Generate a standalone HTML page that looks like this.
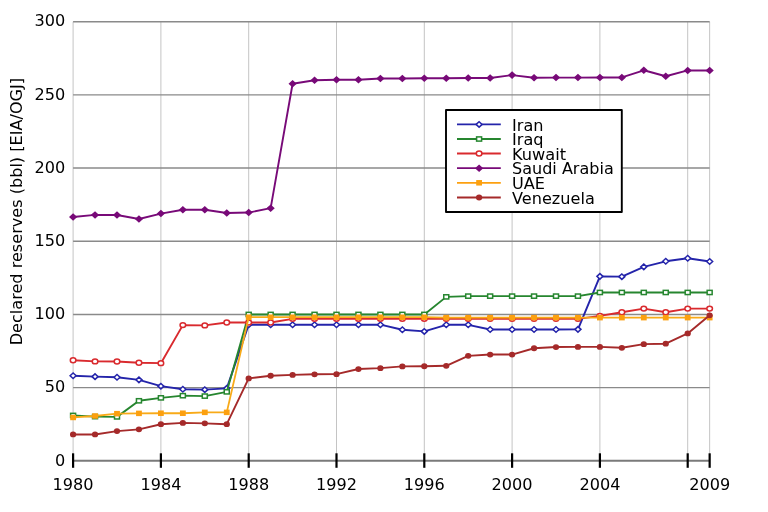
<!DOCTYPE html><html><head><meta charset="utf-8"><style>html,body{margin:0;padding:0;background:#fff;}svg{display:block;will-change:transform;}text{font-family:"DejaVu Sans","Liberation Sans",sans-serif;fill:#000;}</style></head><body>
<svg width="768" height="512" viewBox="0 0 768 512">
<rect width="768" height="512" fill="#fff"/>
<line x1="73.10" y1="21.69" x2="73.10" y2="460.80" stroke="#c4c4c4" stroke-width="1"/>
<line x1="160.90" y1="21.69" x2="160.90" y2="460.80" stroke="#c4c4c4" stroke-width="1"/>
<line x1="248.70" y1="21.69" x2="248.70" y2="460.80" stroke="#c4c4c4" stroke-width="1"/>
<line x1="336.50" y1="21.69" x2="336.50" y2="460.80" stroke="#c4c4c4" stroke-width="1"/>
<line x1="424.30" y1="21.69" x2="424.30" y2="460.80" stroke="#c4c4c4" stroke-width="1"/>
<line x1="512.10" y1="21.69" x2="512.10" y2="460.80" stroke="#c4c4c4" stroke-width="1"/>
<line x1="599.90" y1="21.69" x2="599.90" y2="460.80" stroke="#c4c4c4" stroke-width="1"/>
<line x1="687.70" y1="21.69" x2="687.70" y2="460.80" stroke="#c4c4c4" stroke-width="1"/>
<line x1="709.65" y1="21.69" x2="709.65" y2="460.80" stroke="#c4c4c4" stroke-width="1"/>
<line x1="73.10" y1="387.62" x2="709.65" y2="387.62" stroke="#8a8a8a" stroke-width="1.45"/>
<line x1="73.10" y1="314.43" x2="709.65" y2="314.43" stroke="#8a8a8a" stroke-width="1.45"/>
<line x1="73.10" y1="241.25" x2="709.65" y2="241.25" stroke="#8a8a8a" stroke-width="1.45"/>
<line x1="73.10" y1="168.06" x2="709.65" y2="168.06" stroke="#8a8a8a" stroke-width="1.45"/>
<line x1="73.10" y1="94.88" x2="709.65" y2="94.88" stroke="#8a8a8a" stroke-width="1.45"/>
<line x1="73.10" y1="21.69" x2="709.65" y2="21.69" stroke="#8a8a8a" stroke-width="1.45"/>
<line x1="73.10" y1="460.80" x2="709.65" y2="460.80" stroke="#7a7a7a" stroke-width="2"/>
<line x1="73.10" y1="453.30" x2="73.10" y2="467.80" stroke="#000" stroke-width="2.2"/>
<line x1="160.90" y1="453.30" x2="160.90" y2="467.80" stroke="#000" stroke-width="2.2"/>
<line x1="248.70" y1="453.30" x2="248.70" y2="467.80" stroke="#000" stroke-width="2.2"/>
<line x1="336.50" y1="453.30" x2="336.50" y2="467.80" stroke="#000" stroke-width="2.2"/>
<line x1="424.30" y1="453.30" x2="424.30" y2="467.80" stroke="#000" stroke-width="2.2"/>
<line x1="512.10" y1="453.30" x2="512.10" y2="467.80" stroke="#000" stroke-width="2.2"/>
<line x1="599.90" y1="453.30" x2="599.90" y2="467.80" stroke="#000" stroke-width="2.2"/>
<line x1="687.70" y1="453.30" x2="687.70" y2="467.80" stroke="#000" stroke-width="2.2"/>
<line x1="709.65" y1="453.30" x2="709.65" y2="467.80" stroke="#000" stroke-width="2.2"/>
<text transform="translate(65.20,465.60) scale(0.965,1)" font-size="16.7" text-anchor="end">0</text>
<text transform="translate(65.20,392.42) scale(0.965,1)" font-size="16.7" text-anchor="end">50</text>
<text transform="translate(65.20,319.23) scale(0.965,1)" font-size="16.7" text-anchor="end">100</text>
<text transform="translate(65.20,246.05) scale(0.965,1)" font-size="16.7" text-anchor="end">150</text>
<text transform="translate(65.20,172.86) scale(0.965,1)" font-size="16.7" text-anchor="end">200</text>
<text transform="translate(65.20,99.67) scale(0.965,1)" font-size="16.7" text-anchor="end">250</text>
<text transform="translate(65.20,26.49) scale(0.965,1)" font-size="16.7" text-anchor="end">300</text>
<text transform="translate(73.10,490.2) scale(0.965,1)" font-size="16.7" text-anchor="middle">1980</text>
<text transform="translate(160.90,490.2) scale(0.965,1)" font-size="16.7" text-anchor="middle">1984</text>
<text transform="translate(248.70,490.2) scale(0.965,1)" font-size="16.7" text-anchor="middle">1988</text>
<text transform="translate(336.50,490.2) scale(0.965,1)" font-size="16.7" text-anchor="middle">1992</text>
<text transform="translate(424.30,490.2) scale(0.965,1)" font-size="16.7" text-anchor="middle">1996</text>
<text transform="translate(512.10,490.2) scale(0.965,1)" font-size="16.7" text-anchor="middle">2000</text>
<text transform="translate(599.90,490.2) scale(0.965,1)" font-size="16.7" text-anchor="middle">2004</text>
<text transform="translate(709.65,490.2) scale(0.965,1)" font-size="16.7" text-anchor="middle">2009</text>
<text transform="translate(21.5,211.6) rotate(-90)" font-size="16.1" text-anchor="middle">Declared reserves (bbl) [EIA/OGJ]</text>
<polyline points="73.10,375.76 95.05,376.64 117.00,377.22 138.95,379.86 160.90,386.15 182.85,389.23 204.80,389.66 226.75,388.35 248.70,324.68 270.65,324.68 292.60,324.68 314.55,324.68 336.50,324.68 358.45,324.68 380.40,324.68 402.35,329.80 424.30,331.41 446.25,324.82 468.20,324.82 490.15,329.51 512.10,329.51 534.05,329.51 556.00,329.51 577.95,329.36 599.90,276.37 621.85,276.67 643.80,266.86 665.75,261.30 687.70,258.22 709.65,261.44" fill="none" stroke="#2424aa" stroke-width="1.9" stroke-linejoin="round"/>
<path d="M70.10,375.76L73.10,373.01L76.10,375.76L73.10,378.51Z" fill="#fff" stroke="#2424aa" stroke-width="1.5"/>
<path d="M92.05,376.64L95.05,373.89L98.05,376.64L95.05,379.39Z" fill="#fff" stroke="#2424aa" stroke-width="1.5"/>
<path d="M114.00,377.22L117.00,374.47L120.00,377.22L117.00,379.97Z" fill="#fff" stroke="#2424aa" stroke-width="1.5"/>
<path d="M135.95,379.86L138.95,377.11L141.95,379.86L138.95,382.61Z" fill="#fff" stroke="#2424aa" stroke-width="1.5"/>
<path d="M157.90,386.15L160.90,383.40L163.90,386.15L160.90,388.90Z" fill="#fff" stroke="#2424aa" stroke-width="1.5"/>
<path d="M179.85,389.23L182.85,386.48L185.85,389.23L182.85,391.98Z" fill="#fff" stroke="#2424aa" stroke-width="1.5"/>
<path d="M201.80,389.66L204.80,386.91L207.80,389.66L204.80,392.41Z" fill="#fff" stroke="#2424aa" stroke-width="1.5"/>
<path d="M223.75,388.35L226.75,385.60L229.75,388.35L226.75,391.10Z" fill="#fff" stroke="#2424aa" stroke-width="1.5"/>
<path d="M245.70,324.68L248.70,321.93L251.70,324.68L248.70,327.43Z" fill="#fff" stroke="#2424aa" stroke-width="1.5"/>
<path d="M267.65,324.68L270.65,321.93L273.65,324.68L270.65,327.43Z" fill="#fff" stroke="#2424aa" stroke-width="1.5"/>
<path d="M289.60,324.68L292.60,321.93L295.60,324.68L292.60,327.43Z" fill="#fff" stroke="#2424aa" stroke-width="1.5"/>
<path d="M311.55,324.68L314.55,321.93L317.55,324.68L314.55,327.43Z" fill="#fff" stroke="#2424aa" stroke-width="1.5"/>
<path d="M333.50,324.68L336.50,321.93L339.50,324.68L336.50,327.43Z" fill="#fff" stroke="#2424aa" stroke-width="1.5"/>
<path d="M355.45,324.68L358.45,321.93L361.45,324.68L358.45,327.43Z" fill="#fff" stroke="#2424aa" stroke-width="1.5"/>
<path d="M377.40,324.68L380.40,321.93L383.40,324.68L380.40,327.43Z" fill="#fff" stroke="#2424aa" stroke-width="1.5"/>
<path d="M399.35,329.80L402.35,327.05L405.35,329.80L402.35,332.55Z" fill="#fff" stroke="#2424aa" stroke-width="1.5"/>
<path d="M421.30,331.41L424.30,328.66L427.30,331.41L424.30,334.16Z" fill="#fff" stroke="#2424aa" stroke-width="1.5"/>
<path d="M443.25,324.82L446.25,322.07L449.25,324.82L446.25,327.57Z" fill="#fff" stroke="#2424aa" stroke-width="1.5"/>
<path d="M465.20,324.82L468.20,322.07L471.20,324.82L468.20,327.57Z" fill="#fff" stroke="#2424aa" stroke-width="1.5"/>
<path d="M487.15,329.51L490.15,326.76L493.15,329.51L490.15,332.26Z" fill="#fff" stroke="#2424aa" stroke-width="1.5"/>
<path d="M509.10,329.51L512.10,326.76L515.10,329.51L512.10,332.26Z" fill="#fff" stroke="#2424aa" stroke-width="1.5"/>
<path d="M531.05,329.51L534.05,326.76L537.05,329.51L534.05,332.26Z" fill="#fff" stroke="#2424aa" stroke-width="1.5"/>
<path d="M553.00,329.51L556.00,326.76L559.00,329.51L556.00,332.26Z" fill="#fff" stroke="#2424aa" stroke-width="1.5"/>
<path d="M574.95,329.36L577.95,326.61L580.95,329.36L577.95,332.11Z" fill="#fff" stroke="#2424aa" stroke-width="1.5"/>
<path d="M596.90,276.37L599.90,273.62L602.90,276.37L599.90,279.12Z" fill="#fff" stroke="#2424aa" stroke-width="1.5"/>
<path d="M618.85,276.67L621.85,273.92L624.85,276.67L621.85,279.42Z" fill="#fff" stroke="#2424aa" stroke-width="1.5"/>
<path d="M640.80,266.86L643.80,264.11L646.80,266.86L643.80,269.61Z" fill="#fff" stroke="#2424aa" stroke-width="1.5"/>
<path d="M662.75,261.30L665.75,258.55L668.75,261.30L665.75,264.05Z" fill="#fff" stroke="#2424aa" stroke-width="1.5"/>
<path d="M684.70,258.22L687.70,255.47L690.70,258.22L687.70,260.97Z" fill="#fff" stroke="#2424aa" stroke-width="1.5"/>
<path d="M706.65,261.44L709.65,258.69L712.65,261.44L709.65,264.19Z" fill="#fff" stroke="#2424aa" stroke-width="1.5"/>
<polyline points="73.10,415.43 95.05,416.60 117.00,416.89 138.95,400.79 160.90,397.86 182.85,395.67 204.80,396.10 226.75,391.86 248.70,314.43 270.65,314.43 292.60,314.43 314.55,314.43 336.50,314.43 358.45,314.43 380.40,314.43 402.35,314.43 424.30,314.43 446.25,296.87 468.20,296.13 490.15,296.13 512.10,296.13 534.05,296.13 556.00,296.13 577.95,296.13 599.90,292.47 621.85,292.47 643.80,292.47 665.75,292.47 687.70,292.47 709.65,292.47" fill="none" stroke="#26862f" stroke-width="1.9" stroke-linejoin="round"/>
<rect x="70.60" y="413.33" width="5.00" height="4.20" fill="#fff" stroke="#26862f" stroke-width="1.5"/>
<rect x="92.55" y="414.50" width="5.00" height="4.20" fill="#fff" stroke="#26862f" stroke-width="1.5"/>
<rect x="114.50" y="414.79" width="5.00" height="4.20" fill="#fff" stroke="#26862f" stroke-width="1.5"/>
<rect x="136.45" y="398.69" width="5.00" height="4.20" fill="#fff" stroke="#26862f" stroke-width="1.5"/>
<rect x="158.40" y="395.76" width="5.00" height="4.20" fill="#fff" stroke="#26862f" stroke-width="1.5"/>
<rect x="180.35" y="393.57" width="5.00" height="4.20" fill="#fff" stroke="#26862f" stroke-width="1.5"/>
<rect x="202.30" y="394.00" width="5.00" height="4.20" fill="#fff" stroke="#26862f" stroke-width="1.5"/>
<rect x="224.25" y="389.76" width="5.00" height="4.20" fill="#fff" stroke="#26862f" stroke-width="1.5"/>
<rect x="246.20" y="312.33" width="5.00" height="4.20" fill="#fff" stroke="#26862f" stroke-width="1.5"/>
<rect x="268.15" y="312.33" width="5.00" height="4.20" fill="#fff" stroke="#26862f" stroke-width="1.5"/>
<rect x="290.10" y="312.33" width="5.00" height="4.20" fill="#fff" stroke="#26862f" stroke-width="1.5"/>
<rect x="312.05" y="312.33" width="5.00" height="4.20" fill="#fff" stroke="#26862f" stroke-width="1.5"/>
<rect x="334.00" y="312.33" width="5.00" height="4.20" fill="#fff" stroke="#26862f" stroke-width="1.5"/>
<rect x="355.95" y="312.33" width="5.00" height="4.20" fill="#fff" stroke="#26862f" stroke-width="1.5"/>
<rect x="377.90" y="312.33" width="5.00" height="4.20" fill="#fff" stroke="#26862f" stroke-width="1.5"/>
<rect x="399.85" y="312.33" width="5.00" height="4.20" fill="#fff" stroke="#26862f" stroke-width="1.5"/>
<rect x="421.80" y="312.33" width="5.00" height="4.20" fill="#fff" stroke="#26862f" stroke-width="1.5"/>
<rect x="443.75" y="294.77" width="5.00" height="4.20" fill="#fff" stroke="#26862f" stroke-width="1.5"/>
<rect x="465.70" y="294.03" width="5.00" height="4.20" fill="#fff" stroke="#26862f" stroke-width="1.5"/>
<rect x="487.65" y="294.03" width="5.00" height="4.20" fill="#fff" stroke="#26862f" stroke-width="1.5"/>
<rect x="509.60" y="294.03" width="5.00" height="4.20" fill="#fff" stroke="#26862f" stroke-width="1.5"/>
<rect x="531.55" y="294.03" width="5.00" height="4.20" fill="#fff" stroke="#26862f" stroke-width="1.5"/>
<rect x="553.50" y="294.03" width="5.00" height="4.20" fill="#fff" stroke="#26862f" stroke-width="1.5"/>
<rect x="575.45" y="294.03" width="5.00" height="4.20" fill="#fff" stroke="#26862f" stroke-width="1.5"/>
<rect x="597.40" y="290.37" width="5.00" height="4.20" fill="#fff" stroke="#26862f" stroke-width="1.5"/>
<rect x="619.35" y="290.37" width="5.00" height="4.20" fill="#fff" stroke="#26862f" stroke-width="1.5"/>
<rect x="641.30" y="290.37" width="5.00" height="4.20" fill="#fff" stroke="#26862f" stroke-width="1.5"/>
<rect x="663.25" y="290.37" width="5.00" height="4.20" fill="#fff" stroke="#26862f" stroke-width="1.5"/>
<rect x="685.20" y="290.37" width="5.00" height="4.20" fill="#fff" stroke="#26862f" stroke-width="1.5"/>
<rect x="707.15" y="290.37" width="5.00" height="4.20" fill="#fff" stroke="#26862f" stroke-width="1.5"/>
<polyline points="73.10,360.24 95.05,361.41 117.00,361.56 138.95,362.73 160.90,363.17 182.85,325.12 204.80,325.41 226.75,322.48 248.70,322.48 270.65,322.48 292.60,318.82 314.55,318.82 336.50,318.82 358.45,318.82 380.40,318.82 402.35,318.82 424.30,318.82 446.25,318.82 468.20,318.82 490.15,318.82 512.10,318.82 534.05,318.82 556.00,318.82 577.95,318.82 599.90,315.89 621.85,312.23 643.80,308.58 665.75,312.23 687.70,308.58 709.65,308.58" fill="none" stroke="#d92a2e" stroke-width="1.9" stroke-linejoin="round"/>
<ellipse cx="73.10" cy="360.24" rx="2.8" ry="2.45" fill="#fff" stroke="#d92a2e" stroke-width="1.5"/>
<ellipse cx="95.05" cy="361.41" rx="2.8" ry="2.45" fill="#fff" stroke="#d92a2e" stroke-width="1.5"/>
<ellipse cx="117.00" cy="361.56" rx="2.8" ry="2.45" fill="#fff" stroke="#d92a2e" stroke-width="1.5"/>
<ellipse cx="138.95" cy="362.73" rx="2.8" ry="2.45" fill="#fff" stroke="#d92a2e" stroke-width="1.5"/>
<ellipse cx="160.90" cy="363.17" rx="2.8" ry="2.45" fill="#fff" stroke="#d92a2e" stroke-width="1.5"/>
<ellipse cx="182.85" cy="325.12" rx="2.8" ry="2.45" fill="#fff" stroke="#d92a2e" stroke-width="1.5"/>
<ellipse cx="204.80" cy="325.41" rx="2.8" ry="2.45" fill="#fff" stroke="#d92a2e" stroke-width="1.5"/>
<ellipse cx="226.75" cy="322.48" rx="2.8" ry="2.45" fill="#fff" stroke="#d92a2e" stroke-width="1.5"/>
<ellipse cx="248.70" cy="322.48" rx="2.8" ry="2.45" fill="#fff" stroke="#d92a2e" stroke-width="1.5"/>
<ellipse cx="270.65" cy="322.48" rx="2.8" ry="2.45" fill="#fff" stroke="#d92a2e" stroke-width="1.5"/>
<ellipse cx="292.60" cy="318.82" rx="2.8" ry="2.45" fill="#fff" stroke="#d92a2e" stroke-width="1.5"/>
<ellipse cx="314.55" cy="318.82" rx="2.8" ry="2.45" fill="#fff" stroke="#d92a2e" stroke-width="1.5"/>
<ellipse cx="336.50" cy="318.82" rx="2.8" ry="2.45" fill="#fff" stroke="#d92a2e" stroke-width="1.5"/>
<ellipse cx="358.45" cy="318.82" rx="2.8" ry="2.45" fill="#fff" stroke="#d92a2e" stroke-width="1.5"/>
<ellipse cx="380.40" cy="318.82" rx="2.8" ry="2.45" fill="#fff" stroke="#d92a2e" stroke-width="1.5"/>
<ellipse cx="402.35" cy="318.82" rx="2.8" ry="2.45" fill="#fff" stroke="#d92a2e" stroke-width="1.5"/>
<ellipse cx="424.30" cy="318.82" rx="2.8" ry="2.45" fill="#fff" stroke="#d92a2e" stroke-width="1.5"/>
<ellipse cx="446.25" cy="318.82" rx="2.8" ry="2.45" fill="#fff" stroke="#d92a2e" stroke-width="1.5"/>
<ellipse cx="468.20" cy="318.82" rx="2.8" ry="2.45" fill="#fff" stroke="#d92a2e" stroke-width="1.5"/>
<ellipse cx="490.15" cy="318.82" rx="2.8" ry="2.45" fill="#fff" stroke="#d92a2e" stroke-width="1.5"/>
<ellipse cx="512.10" cy="318.82" rx="2.8" ry="2.45" fill="#fff" stroke="#d92a2e" stroke-width="1.5"/>
<ellipse cx="534.05" cy="318.82" rx="2.8" ry="2.45" fill="#fff" stroke="#d92a2e" stroke-width="1.5"/>
<ellipse cx="556.00" cy="318.82" rx="2.8" ry="2.45" fill="#fff" stroke="#d92a2e" stroke-width="1.5"/>
<ellipse cx="577.95" cy="318.82" rx="2.8" ry="2.45" fill="#fff" stroke="#d92a2e" stroke-width="1.5"/>
<ellipse cx="599.90" cy="315.89" rx="2.8" ry="2.45" fill="#fff" stroke="#d92a2e" stroke-width="1.5"/>
<ellipse cx="621.85" cy="312.23" rx="2.8" ry="2.45" fill="#fff" stroke="#d92a2e" stroke-width="1.5"/>
<ellipse cx="643.80" cy="308.58" rx="2.8" ry="2.45" fill="#fff" stroke="#d92a2e" stroke-width="1.5"/>
<ellipse cx="665.75" cy="312.23" rx="2.8" ry="2.45" fill="#fff" stroke="#d92a2e" stroke-width="1.5"/>
<ellipse cx="687.70" cy="308.58" rx="2.8" ry="2.45" fill="#fff" stroke="#d92a2e" stroke-width="1.5"/>
<ellipse cx="709.65" cy="308.58" rx="2.8" ry="2.45" fill="#fff" stroke="#d92a2e" stroke-width="1.5"/>
<polyline points="73.10,216.95 95.05,214.90 117.00,215.04 138.95,219.00 160.90,213.58 182.85,209.78 204.80,209.78 226.75,213.00 248.70,212.56 270.65,208.17 292.60,83.75 314.55,80.24 336.50,79.80 358.45,79.80 380.40,78.48 402.35,78.48 424.30,78.19 446.25,78.19 468.20,78.04 490.15,78.04 512.10,75.12 534.05,77.75 556.00,77.60 577.95,77.60 599.90,77.46 621.85,77.46 643.80,70.28 665.75,76.29 687.70,70.43 709.65,70.43" fill="none" stroke="#780a78" stroke-width="1.9" stroke-linejoin="round"/>
<path d="M70.10,216.95L73.10,214.20L76.10,216.95L73.10,219.70Z" fill="#780a78" stroke="#780a78" stroke-width="1.5"/>
<path d="M92.05,214.90L95.05,212.15L98.05,214.90L95.05,217.65Z" fill="#780a78" stroke="#780a78" stroke-width="1.5"/>
<path d="M114.00,215.04L117.00,212.29L120.00,215.04L117.00,217.79Z" fill="#780a78" stroke="#780a78" stroke-width="1.5"/>
<path d="M135.95,219.00L138.95,216.25L141.95,219.00L138.95,221.75Z" fill="#780a78" stroke="#780a78" stroke-width="1.5"/>
<path d="M157.90,213.58L160.90,210.83L163.90,213.58L160.90,216.33Z" fill="#780a78" stroke="#780a78" stroke-width="1.5"/>
<path d="M179.85,209.78L182.85,207.03L185.85,209.78L182.85,212.53Z" fill="#780a78" stroke="#780a78" stroke-width="1.5"/>
<path d="M201.80,209.78L204.80,207.03L207.80,209.78L204.80,212.53Z" fill="#780a78" stroke="#780a78" stroke-width="1.5"/>
<path d="M223.75,213.00L226.75,210.25L229.75,213.00L226.75,215.75Z" fill="#780a78" stroke="#780a78" stroke-width="1.5"/>
<path d="M245.70,212.56L248.70,209.81L251.70,212.56L248.70,215.31Z" fill="#780a78" stroke="#780a78" stroke-width="1.5"/>
<path d="M267.65,208.17L270.65,205.42L273.65,208.17L270.65,210.92Z" fill="#780a78" stroke="#780a78" stroke-width="1.5"/>
<path d="M289.60,83.75L292.60,81.00L295.60,83.75L292.60,86.50Z" fill="#780a78" stroke="#780a78" stroke-width="1.5"/>
<path d="M311.55,80.24L314.55,77.49L317.55,80.24L314.55,82.99Z" fill="#780a78" stroke="#780a78" stroke-width="1.5"/>
<path d="M333.50,79.80L336.50,77.05L339.50,79.80L336.50,82.55Z" fill="#780a78" stroke="#780a78" stroke-width="1.5"/>
<path d="M355.45,79.80L358.45,77.05L361.45,79.80L358.45,82.55Z" fill="#780a78" stroke="#780a78" stroke-width="1.5"/>
<path d="M377.40,78.48L380.40,75.73L383.40,78.48L380.40,81.23Z" fill="#780a78" stroke="#780a78" stroke-width="1.5"/>
<path d="M399.35,78.48L402.35,75.73L405.35,78.48L402.35,81.23Z" fill="#780a78" stroke="#780a78" stroke-width="1.5"/>
<path d="M421.30,78.19L424.30,75.44L427.30,78.19L424.30,80.94Z" fill="#780a78" stroke="#780a78" stroke-width="1.5"/>
<path d="M443.25,78.19L446.25,75.44L449.25,78.19L446.25,80.94Z" fill="#780a78" stroke="#780a78" stroke-width="1.5"/>
<path d="M465.20,78.04L468.20,75.29L471.20,78.04L468.20,80.79Z" fill="#780a78" stroke="#780a78" stroke-width="1.5"/>
<path d="M487.15,78.04L490.15,75.29L493.15,78.04L490.15,80.79Z" fill="#780a78" stroke="#780a78" stroke-width="1.5"/>
<path d="M509.10,75.12L512.10,72.37L515.10,75.12L512.10,77.87Z" fill="#780a78" stroke="#780a78" stroke-width="1.5"/>
<path d="M531.05,77.75L534.05,75.00L537.05,77.75L534.05,80.50Z" fill="#780a78" stroke="#780a78" stroke-width="1.5"/>
<path d="M553.00,77.60L556.00,74.85L559.00,77.60L556.00,80.35Z" fill="#780a78" stroke="#780a78" stroke-width="1.5"/>
<path d="M574.95,77.60L577.95,74.85L580.95,77.60L577.95,80.35Z" fill="#780a78" stroke="#780a78" stroke-width="1.5"/>
<path d="M596.90,77.46L599.90,74.71L602.90,77.46L599.90,80.21Z" fill="#780a78" stroke="#780a78" stroke-width="1.5"/>
<path d="M618.85,77.46L621.85,74.71L624.85,77.46L621.85,80.21Z" fill="#780a78" stroke="#780a78" stroke-width="1.5"/>
<path d="M640.80,70.28L643.80,67.53L646.80,70.28L643.80,73.03Z" fill="#780a78" stroke="#780a78" stroke-width="1.5"/>
<path d="M662.75,76.29L665.75,73.54L668.75,76.29L665.75,79.04Z" fill="#780a78" stroke="#780a78" stroke-width="1.5"/>
<path d="M684.70,70.43L687.70,67.68L690.70,70.43L687.70,73.18Z" fill="#780a78" stroke="#780a78" stroke-width="1.5"/>
<path d="M706.65,70.43L709.65,67.68L712.65,70.43L709.65,73.18Z" fill="#780a78" stroke="#780a78" stroke-width="1.5"/>
<polyline points="73.10,417.47 95.05,416.01 117.00,413.67 138.95,413.38 160.90,413.23 182.85,413.23 204.80,412.35 226.75,412.35 248.70,317.21 270.65,317.21 292.60,317.21 314.55,317.21 336.50,317.21 358.45,317.21 380.40,317.21 402.35,317.21 424.30,317.21 446.25,317.65 468.20,317.65 490.15,317.65 512.10,317.65 534.05,317.65 556.00,317.65 577.95,317.65 599.90,317.65 621.85,317.65 643.80,317.65 665.75,317.65 687.70,317.65 709.65,317.65" fill="none" stroke="#f8aa18" stroke-width="1.8" stroke-linejoin="round"/>
<rect x="70.95" y="415.47" width="4.30" height="4.00" fill="#fca010" stroke="#fca010" stroke-width="1.5"/>
<rect x="92.90" y="414.01" width="4.30" height="4.00" fill="#fca010" stroke="#fca010" stroke-width="1.5"/>
<rect x="114.85" y="411.67" width="4.30" height="4.00" fill="#fca010" stroke="#fca010" stroke-width="1.5"/>
<rect x="136.80" y="411.38" width="4.30" height="4.00" fill="#fca010" stroke="#fca010" stroke-width="1.5"/>
<rect x="158.75" y="411.23" width="4.30" height="4.00" fill="#fca010" stroke="#fca010" stroke-width="1.5"/>
<rect x="180.70" y="411.23" width="4.30" height="4.00" fill="#fca010" stroke="#fca010" stroke-width="1.5"/>
<rect x="202.65" y="410.35" width="4.30" height="4.00" fill="#fca010" stroke="#fca010" stroke-width="1.5"/>
<rect x="224.60" y="410.35" width="4.30" height="4.00" fill="#fca010" stroke="#fca010" stroke-width="1.5"/>
<rect x="246.55" y="315.21" width="4.30" height="4.00" fill="#fca010" stroke="#fca010" stroke-width="1.5"/>
<rect x="268.50" y="315.21" width="4.30" height="4.00" fill="#fca010" stroke="#fca010" stroke-width="1.5"/>
<rect x="290.45" y="315.21" width="4.30" height="4.00" fill="#fca010" stroke="#fca010" stroke-width="1.5"/>
<rect x="312.40" y="315.21" width="4.30" height="4.00" fill="#fca010" stroke="#fca010" stroke-width="1.5"/>
<rect x="334.35" y="315.21" width="4.30" height="4.00" fill="#fca010" stroke="#fca010" stroke-width="1.5"/>
<rect x="356.30" y="315.21" width="4.30" height="4.00" fill="#fca010" stroke="#fca010" stroke-width="1.5"/>
<rect x="378.25" y="315.21" width="4.30" height="4.00" fill="#fca010" stroke="#fca010" stroke-width="1.5"/>
<rect x="400.20" y="315.21" width="4.30" height="4.00" fill="#fca010" stroke="#fca010" stroke-width="1.5"/>
<rect x="422.15" y="315.21" width="4.30" height="4.00" fill="#fca010" stroke="#fca010" stroke-width="1.5"/>
<rect x="444.10" y="315.65" width="4.30" height="4.00" fill="#fca010" stroke="#fca010" stroke-width="1.5"/>
<rect x="466.05" y="315.65" width="4.30" height="4.00" fill="#fca010" stroke="#fca010" stroke-width="1.5"/>
<rect x="488.00" y="315.65" width="4.30" height="4.00" fill="#fca010" stroke="#fca010" stroke-width="1.5"/>
<rect x="509.95" y="315.65" width="4.30" height="4.00" fill="#fca010" stroke="#fca010" stroke-width="1.5"/>
<rect x="531.90" y="315.65" width="4.30" height="4.00" fill="#fca010" stroke="#fca010" stroke-width="1.5"/>
<rect x="553.85" y="315.65" width="4.30" height="4.00" fill="#fca010" stroke="#fca010" stroke-width="1.5"/>
<rect x="575.80" y="315.65" width="4.30" height="4.00" fill="#fca010" stroke="#fca010" stroke-width="1.5"/>
<rect x="597.75" y="315.65" width="4.30" height="4.00" fill="#fca010" stroke="#fca010" stroke-width="1.5"/>
<rect x="619.70" y="315.65" width="4.30" height="4.00" fill="#fca010" stroke="#fca010" stroke-width="1.5"/>
<rect x="641.65" y="315.65" width="4.30" height="4.00" fill="#fca010" stroke="#fca010" stroke-width="1.5"/>
<rect x="663.60" y="315.65" width="4.30" height="4.00" fill="#fca010" stroke="#fca010" stroke-width="1.5"/>
<rect x="685.55" y="315.65" width="4.30" height="4.00" fill="#fca010" stroke="#fca010" stroke-width="1.5"/>
<rect x="707.50" y="315.65" width="4.30" height="4.00" fill="#fca010" stroke="#fca010" stroke-width="1.5"/>
<polyline points="73.10,434.45 95.05,434.45 117.00,431.09 138.95,429.33 160.90,424.21 182.85,422.89 204.80,423.33 226.75,424.21 248.70,378.39 270.65,375.76 292.60,374.88 314.55,374.30 336.50,374.15 358.45,369.03 380.40,368.15 402.35,366.39 424.30,366.24 446.25,365.81 468.20,355.85 490.15,354.54 512.10,354.54 534.05,348.24 556.00,347.07 577.95,346.92 599.90,346.92 621.85,347.80 643.80,344.14 665.75,343.70 687.70,333.46 709.65,315.31" fill="none" stroke="#a52a2a" stroke-width="1.9" stroke-linejoin="round"/>
<ellipse cx="73.10" cy="434.45" rx="2.4" ry="2.15" fill="#a52a2a" stroke="#a52a2a" stroke-width="1.5"/>
<ellipse cx="95.05" cy="434.45" rx="2.4" ry="2.15" fill="#a52a2a" stroke="#a52a2a" stroke-width="1.5"/>
<ellipse cx="117.00" cy="431.09" rx="2.4" ry="2.15" fill="#a52a2a" stroke="#a52a2a" stroke-width="1.5"/>
<ellipse cx="138.95" cy="429.33" rx="2.4" ry="2.15" fill="#a52a2a" stroke="#a52a2a" stroke-width="1.5"/>
<ellipse cx="160.90" cy="424.21" rx="2.4" ry="2.15" fill="#a52a2a" stroke="#a52a2a" stroke-width="1.5"/>
<ellipse cx="182.85" cy="422.89" rx="2.4" ry="2.15" fill="#a52a2a" stroke="#a52a2a" stroke-width="1.5"/>
<ellipse cx="204.80" cy="423.33" rx="2.4" ry="2.15" fill="#a52a2a" stroke="#a52a2a" stroke-width="1.5"/>
<ellipse cx="226.75" cy="424.21" rx="2.4" ry="2.15" fill="#a52a2a" stroke="#a52a2a" stroke-width="1.5"/>
<ellipse cx="248.70" cy="378.39" rx="2.4" ry="2.15" fill="#a52a2a" stroke="#a52a2a" stroke-width="1.5"/>
<ellipse cx="270.65" cy="375.76" rx="2.4" ry="2.15" fill="#a52a2a" stroke="#a52a2a" stroke-width="1.5"/>
<ellipse cx="292.60" cy="374.88" rx="2.4" ry="2.15" fill="#a52a2a" stroke="#a52a2a" stroke-width="1.5"/>
<ellipse cx="314.55" cy="374.30" rx="2.4" ry="2.15" fill="#a52a2a" stroke="#a52a2a" stroke-width="1.5"/>
<ellipse cx="336.50" cy="374.15" rx="2.4" ry="2.15" fill="#a52a2a" stroke="#a52a2a" stroke-width="1.5"/>
<ellipse cx="358.45" cy="369.03" rx="2.4" ry="2.15" fill="#a52a2a" stroke="#a52a2a" stroke-width="1.5"/>
<ellipse cx="380.40" cy="368.15" rx="2.4" ry="2.15" fill="#a52a2a" stroke="#a52a2a" stroke-width="1.5"/>
<ellipse cx="402.35" cy="366.39" rx="2.4" ry="2.15" fill="#a52a2a" stroke="#a52a2a" stroke-width="1.5"/>
<ellipse cx="424.30" cy="366.24" rx="2.4" ry="2.15" fill="#a52a2a" stroke="#a52a2a" stroke-width="1.5"/>
<ellipse cx="446.25" cy="365.81" rx="2.4" ry="2.15" fill="#a52a2a" stroke="#a52a2a" stroke-width="1.5"/>
<ellipse cx="468.20" cy="355.85" rx="2.4" ry="2.15" fill="#a52a2a" stroke="#a52a2a" stroke-width="1.5"/>
<ellipse cx="490.15" cy="354.54" rx="2.4" ry="2.15" fill="#a52a2a" stroke="#a52a2a" stroke-width="1.5"/>
<ellipse cx="512.10" cy="354.54" rx="2.4" ry="2.15" fill="#a52a2a" stroke="#a52a2a" stroke-width="1.5"/>
<ellipse cx="534.05" cy="348.24" rx="2.4" ry="2.15" fill="#a52a2a" stroke="#a52a2a" stroke-width="1.5"/>
<ellipse cx="556.00" cy="347.07" rx="2.4" ry="2.15" fill="#a52a2a" stroke="#a52a2a" stroke-width="1.5"/>
<ellipse cx="577.95" cy="346.92" rx="2.4" ry="2.15" fill="#a52a2a" stroke="#a52a2a" stroke-width="1.5"/>
<ellipse cx="599.90" cy="346.92" rx="2.4" ry="2.15" fill="#a52a2a" stroke="#a52a2a" stroke-width="1.5"/>
<ellipse cx="621.85" cy="347.80" rx="2.4" ry="2.15" fill="#a52a2a" stroke="#a52a2a" stroke-width="1.5"/>
<ellipse cx="643.80" cy="344.14" rx="2.4" ry="2.15" fill="#a52a2a" stroke="#a52a2a" stroke-width="1.5"/>
<ellipse cx="665.75" cy="343.70" rx="2.4" ry="2.15" fill="#a52a2a" stroke="#a52a2a" stroke-width="1.5"/>
<ellipse cx="687.70" cy="333.46" rx="2.4" ry="2.15" fill="#a52a2a" stroke="#a52a2a" stroke-width="1.5"/>
<ellipse cx="709.65" cy="315.31" rx="2.4" ry="2.15" fill="#a52a2a" stroke="#a52a2a" stroke-width="1.5"/>
<rect x="446" y="110" width="175.8" height="102" fill="#fff" stroke="#000" stroke-width="1.9" stroke-linejoin="round"/>
<line x1="457" y1="124.4" x2="500.8" y2="124.4" stroke="#2424aa" stroke-width="1.8"/>
<path d="M476.10,124.40L479.10,121.65L482.10,124.40L479.10,127.15Z" fill="#fff" stroke="#2424aa" stroke-width="1.5"/>
<text transform="translate(512.0,130.60) scale(1.075,1)" font-size="15">Iran</text>
<line x1="457" y1="139.0" x2="500.8" y2="139.0" stroke="#26862f" stroke-width="1.8"/>
<rect x="476.60" y="136.90" width="5.00" height="4.20" fill="#fff" stroke="#26862f" stroke-width="1.5"/>
<text transform="translate(512.0,145.20) scale(1.075,1)" font-size="15">Iraq</text>
<line x1="457" y1="153.5" x2="500.8" y2="153.5" stroke="#d92a2e" stroke-width="1.8"/>
<ellipse cx="479.10" cy="153.50" rx="2.8" ry="2.45" fill="#fff" stroke="#d92a2e" stroke-width="1.5"/>
<text transform="translate(512.0,159.70) scale(1.08,1)" font-size="15">Kuwait</text>
<line x1="457" y1="168.2" x2="500.8" y2="168.2" stroke="#780a78" stroke-width="1.8"/>
<path d="M476.10,168.20L479.10,165.45L482.10,168.20L479.10,170.95Z" fill="#780a78" stroke="#780a78" stroke-width="1.5"/>
<text transform="translate(512.0,174.40) scale(1.07,1)" font-size="15">Saudi Arabia</text>
<line x1="457" y1="182.8" x2="500.8" y2="182.8" stroke="#fca010" stroke-width="1.8"/>
<rect x="476.95" y="180.80" width="4.30" height="4.00" fill="#fca010" stroke="#fca010" stroke-width="1.5"/>
<text transform="translate(512.0,189.00) scale(1.075,1)" font-size="15">UAE</text>
<line x1="457" y1="197.5" x2="500.8" y2="197.5" stroke="#a52a2a" stroke-width="1.8"/>
<ellipse cx="479.10" cy="197.50" rx="2.4" ry="2.15" fill="#a52a2a" stroke="#a52a2a" stroke-width="1.5"/>
<text transform="translate(512.0,203.70) scale(1.075,1)" font-size="15">Venezuela</text>
</svg></body></html>
